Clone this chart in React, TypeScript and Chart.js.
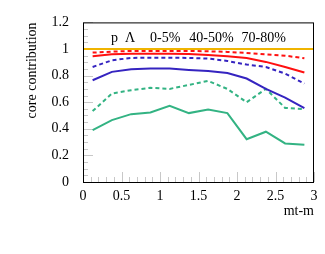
import React, { useEffect, useRef } from "react";
import { Chart, registerables } from "chart.js";

Chart.register(...registerables);

const xCenters = [0.125, 0.375, 0.625, 0.875, 1.125, 1.375, 1.625, 1.875, 2.125, 2.375, 2.625, 2.875];
const redSolid = [0.945, 0.96, 0.965, 0.965, 0.965, 0.963, 0.955, 0.945, 0.933, 0.903, 0.865, 0.823];
const redDashed = [0.973, 0.98, 0.985, 0.985, 0.985, 0.985, 0.983, 0.978, 0.97, 0.96, 0.95, 0.93];
const blueSolid = [0.765, 0.828, 0.848, 0.853, 0.853, 0.843, 0.835, 0.82, 0.778, 0.7, 0.635, 0.555];
const blueDashed = [0.865, 0.915, 0.933, 0.935, 0.935, 0.933, 0.928, 0.91, 0.883, 0.865, 0.815, 0.74];
const greenSolid = [0.39, 0.465, 0.51, 0.523, 0.573, 0.518, 0.545, 0.518, 0.322, 0.378, 0.29, 0.28];
const greenDashed = [0.533, 0.665, 0.69, 0.708, 0.7, 0.73, 0.76, 0.7, 0.6, 0.7, 0.557, 0.548];
const refX = [0, 3];
const refY = [1, 1];
const headerLabels = ["p", "Λ", "0-5%", "40-50%", "70-80%"];
const headerX = [0.364, 0.545, 0.87, 1.38, 2.06];
const yTitle = "core contribution";
const xTitle = "mt-m";

const FONT = "'Liberation Serif', 'Times New Roman', serif";

const pts = (xs: number[], ys: number[]) => xs.map((x, i) => ({ x, y: ys[i] }));

export default function App() {
  const ref = useRef<HTMLCanvasElement>(null);
  useEffect(() => {
    if (!ref.current) return;
    const RED = "#ff1010";
    const BLUE = "#3524c0";
    const GREEN = "#33b383";
    const mk = (label: string, ys: number[], color: string, dashed: boolean) => ({
      label,
      data: pts(xCenters, ys),
      borderColor: color,
      backgroundColor: color,
      borderWidth: 2,
      borderDash: dashed ? [4, 3] : [],
      pointRadius: 0,
      fill: false,
      tension: 0,
    });
    const decor = {
      id: "decor",
      beforeDatasetsDraw(chart: any) {
        const { ctx, chartArea: a, scales } = chart;
        const xs = scales.x, ys = scales.y;
        ctx.save();
        ctx.strokeStyle = "#c8c8c8";
        ctx.lineWidth = 1;
        ctx.beginPath();
        for (let i = 0; i <= 30; i++) {
          const v = i / 10;
          const px = Math.round(xs.getPixelForValue(v)) + 0.5;
          const len = i % 5 === 0 ? 10 : 5;
          ctx.moveTo(px, a.bottom);
          ctx.lineTo(px, a.bottom - len);
        }
        for (let i = 0; i <= 24; i++) {
          const v = i * 0.05;
          const py = Math.round(ys.getPixelForValue(v)) + 0.5;
          const len = i % 4 === 0 ? 10 : 5;
          ctx.moveTo(a.left, py);
          ctx.lineTo(a.left + len, py);
        }
        ctx.stroke();
        ctx.restore();
      },
      afterDraw(chart: any) {
        const { ctx, chartArea: a, scales } = chart;
        ctx.save();
        ctx.strokeStyle = "#000";
        ctx.lineWidth = 1;
        ctx.strokeRect(a.left + 0.5, a.top + 0.5, a.right - a.left - 1, a.bottom - a.top);
        ctx.fillStyle = "#000";
        ctx.font = `14px ${FONT}`;
        ctx.textBaseline = "alphabetic";
        ctx.textAlign = "left";
        headerLabels.forEach((t, i) => {
          ctx.fillText(t, scales.x.getPixelForValue(headerX[i]), a.top + 19.5);
        });
        ctx.textAlign = "right";
        ctx.textBaseline = "middle";
        ctx.fillText(xTitle, a.right, a.bottom + 29);
        ctx.translate(32, a.top);
        ctx.rotate(-Math.PI / 2);
        ctx.textAlign = "right";
        ctx.fillText(yTitle, 0, 0);
        ctx.restore();
      },
    };
    const chart = new Chart(ref.current, {
      type: "line",
      data: {
        datasets: [
          { label: "ref", data: pts(refX, refY), borderColor: "#f0b400", backgroundColor: "#f0b400", borderWidth: 2, pointRadius: 0, fill: false } as any,
          mk("redDashed", redDashed, RED, true),
          mk("redSolid", redSolid, RED, false),
          mk("blueDashed", blueDashed, BLUE, true),
          mk("blueSolid", blueSolid, BLUE, false),
          mk("greenDashed", greenDashed, GREEN, true),
          mk("greenSolid", greenSolid, GREEN, false),
        ],
      },
      options: {
        animation: false,
        responsive: false,
        layout: { padding: { top: 22, right: 11, left: 0, bottom: 0 } },
        plugins: { legend: { display: false }, tooltip: { enabled: false }, title: { display: false } },
        scales: {
          x: {
            type: "linear",
            min: 0,
            max: 3,
            grid: { display: false, drawTicks: false },
            border: { display: false },
            ticks: {
              stepSize: 0.5,
              padding: 6,
              color: "#000",
              font: { family: FONT, size: 14 },
              maxRotation: 0,
              callback: (v: any) => String(Number(Number(v).toFixed(1))),
            },
            afterFit: (s: any) => { s.height = 72; },
          },
          y: {
            type: "linear",
            min: 0,
            max: 1.2,
            grid: { display: false, drawTicks: false },
            border: { display: false },
            ticks: {
              stepSize: 0.2,
              padding: 14,
              color: "#000",
              font: { family: FONT, size: 14 },
              callback: (v: any) => String(Number(Number(v).toFixed(1))),
            },
            afterFit: (s: any) => { s.width = 83; },
          },
        },
      },
      plugins: [decor],
    });
    return () => chart.destroy();
  }, []);
  return (
    <div style={{ position: "fixed", left: 0, top: 0, width: 325, height: 254, background: "#fff" }}>
      <canvas ref={ref} width={325} height={254} />
    </div>
  );
}
